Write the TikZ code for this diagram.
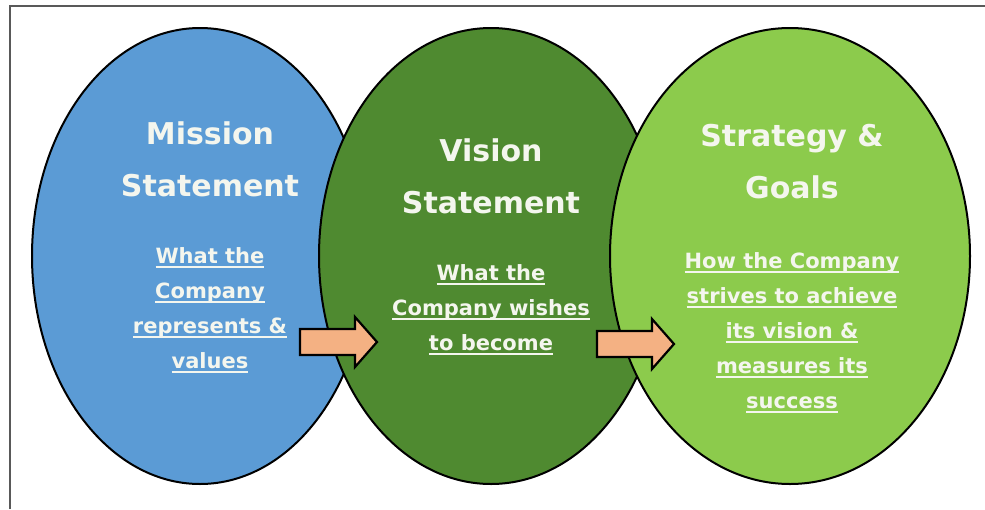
\documentclass[tikz,border=0pt]{standalone}
\usepackage{fontspec}
\setmainfont{DejaVu Sans}
\usetikzlibrary{shapes.geometric}

\definecolor{missionblue}{HTML}{5B9BD5}
\definecolor{visiongreen}{HTML}{4F8A30}
\definecolor{strategygreen}{HTML}{8CCB4C}
\definecolor{arrowfill}{HTML}{F4B183}
\definecolor{labelwhite}{HTML}{F4F6EE}

\newcommand\undl[1]{\setbox0\hbox{#1}\rlap{\rule[-5pt]{\wd0}{2pt}}\box0}

\tikzset{
    circle part/.style={
        draw=black,line width=2pt,ellipse,
        minimum width=340pt,minimum height=456pt
    },
    title text/.style={
        anchor=north,align=center,inner sep=0pt,text=labelwhite,
        font=\fontsize{30}{52}\selectfont\bfseries
    },
    body text/.style={
        anchor=north,align=center,inner sep=0pt,text=labelwhite,
        font=\fontsize{21}{35}\selectfont\bfseries
    },
    flow arrow/.style={
        draw=black,line width=2.2pt,fill=arrowfill,line join=miter
    }
}

\begin{document}
\begin{tikzpicture}[x=1pt,y=-1pt]
        \useasboundingbox (0,0) rectangle (985,509);
        \fill[white] (0,0) rectangle (985,509);
        \draw[gray!70!black,line width=2pt] (10,509) -- (10,6) -- (985,6);
        \node[circle part,fill=missionblue,minimum width=336pt] (mission) at (200,256) {};
        \node[circle part,fill=visiongreen,minimum width=344pt] (vision) at (491,256) {};
        \node[circle part,fill=strategygreen,minimum width=360pt] (strategy) at (790,256) {};
        \node[title text] (mission title) at (210,122) {Mission\\Statement};
        \node[title text] (vision title) at (491,139) {Vision\\Statement};
        \node[title text] (strategy title) at (792,124) {Strategy \&\\Goals};
        \node[body text] (mission body) at (210,247)
            {\undl{What the}\\\undl{Company}\\\undl{represents \&}\\\undl{values}};
        \node[body text] (vision body) at (491,264)
            {\undl{What the}\\\undl{Company wishes}\\\undl{to become}};
        \node[body text] (strategy body) at (792,252)
            {\undl{How the Company}\\\undl{strives to achieve}\\\undl{its vision \&}\\\undl{measures its}\\\undl{success}};
        \foreach \x/\y in {300/342,597/344}
            \draw[flow arrow] (\x,\y-13) -- ++(55,0) -- ++(0,-12) -- ++(22,25) -- ++(-22,25) -- ++(0,-12) -- ++(-55,0) -- cycle;
    \end{tikzpicture}
\end{document}
